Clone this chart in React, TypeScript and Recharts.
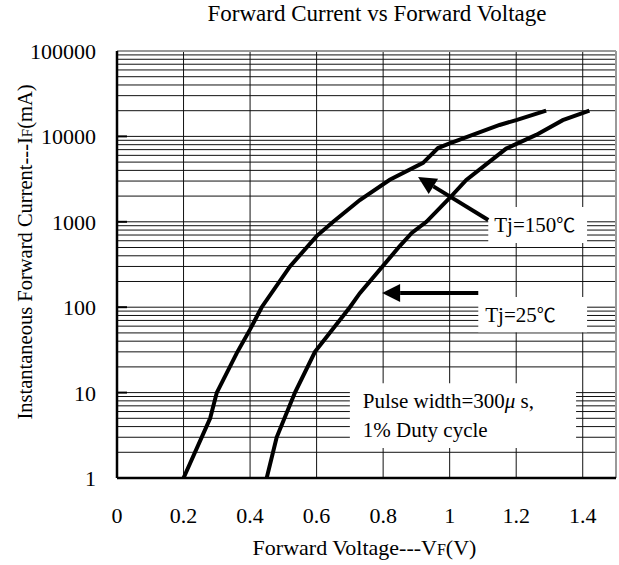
import React from 'react'
import {
  LineChart,
  Line,
  XAxis,
  YAxis,
  CartesianGrid,
  ReferenceArea,
  ReferenceLine,
} from 'recharts'

// axis ticks
const voltageTicks = [0, 0.2, 0.4, 0.6, 0.8, 1, 1.2, 1.4]
const currentTicks = [1, 10, 100, 1000, 10000, 100000]
const minorSteps = [2, 3, 4, 5, 6, 7, 8, 9]

// Tj = 150°C curve (V, mA)
const hotVoltage = [0.2, 0.28, 0.3, 0.36, 0.4, 0.435, 0.52, 0.6, 0.65, 0.73, 0.82, 0.92, 0.965, 1.0, 1.15, 1.2, 1.29]
const hotCurrent = [1, 5, 10, 29, 55, 100, 300, 680, 1000, 1800, 3100, 4900, 7300, 8300, 13600, 15500, 20000]

// Tj = 25°C curve (V, mA)
const coldVoltage = [0.45, 0.48, 0.535, 0.595, 0.7, 0.73, 0.85, 0.886, 0.93, 1.0, 1.05, 1.17, 1.26, 1.34, 1.42]
const coldCurrent = [1, 3, 10, 30, 100, 146, 520, 740, 1000, 1900, 3090, 7200, 10400, 15500, 20000]

const hotData = hotVoltage.map((v, i) => ({ v, a: hotCurrent[i] }))
const coldData = coldVoltage.map((v, i) => ({ v, a: coldCurrent[i] }))

const gridY = currentTicks.flatMap((d) => (d < 100000 ? [d, ...minorSteps.map((m) => d * m)] : [d]))
const gridX = voltageTicks.filter((v) => v > 0)

const FONT = 'Liberation Serif, Times New Roman, serif'
const DEG_FONT = 'Noto Sans CJK TC, Noto Sans CJK SC, serif'

const ArrowShape = (props: any) => {
  const { x1, y1, x2, y2 } = props
  const dx = x2 - x1
  const dy = y2 - y1
  const len = Math.hypot(dx, dy) || 1
  const ux = dx / len
  const uy = dy / len
  const head = 18
  const half = 9
  const bx = x2 - ux * head
  const by = y2 - uy * head
  const px = -uy
  const py = ux
  return (
    <g>
      <line x1={x1} y1={y1} x2={bx} y2={by} stroke="#000" strokeWidth={4} />
      <polygon
        points={`${x2},${y2} ${bx + px * half},${by + py * half} ${bx - px * half},${by - py * half}`}
        fill="#000"
      />
    </g>
  )
}

const XTick = (props: any) => {
  const { x, payload } = props
  return (
    <text x={x} y={523} textAnchor="middle" fontFamily={FONT} fontSize={22} fill="#000">
      {payload.value}
    </text>
  )
}

const YTick = (props: any) => {
  const { y, payload } = props
  return (
    <text x={96} y={y + 8} textAnchor="end" fontFamily={FONT} fontSize={22} fill="#000">
      {payload.value}
    </text>
  )
}

const boxText = (lines: React.ReactNode[], padX: number, lineGap = 29) => (props: any) => {
  const vb = props.viewBox || {}
  const cy = vb.y + vb.height / 2
  const first = cy - ((lines.length - 1) * lineGap) / 2
  return (
    <g>
      {lines.map((ln, i) => (
        <text
          key={i}
          x={vb.x + padX}
          y={first + i * lineGap + 7}
          fontFamily={FONT}
          fontSize={21}
          fill="#000"
        >
          {ln}
        </text>
      ))}
    </g>
  )
}

export default function App() {
  return (
    <div style={{ position: 'absolute', left: 0, top: 0, background: '#fff' }}>
      <LineChart width={619} height={565} margin={{ top: 51, right: 3, bottom: 0, left: 0 }}>
        <text x={377} y={21} textAnchor="middle" fontFamily={FONT} fontSize={23} fill="#000">
          Forward Current vs Forward Voltage
        </text>
        <CartesianGrid
          horizontalValues={gridY}
          verticalValues={gridX}
          stroke="#111"
          strokeWidth={1}
        />
        <XAxis
          type="number"
          dataKey="v"
          domain={[0, 1.5]}
          ticks={voltageTicks}
          interval={0}
          allowDataOverflow
          height={87}
          tickSize={0}
          tickLine={false}
          axisLine={{ stroke: '#000', strokeWidth: 2.5 }}
          tick={<XTick />}
          label={(props: any) => {
            const vb = props.viewBox
            return (
              <text x={vb.x + vb.width / 2 - 2} y={555} textAnchor="middle" fontFamily={FONT} fontSize={22} fill="#000">
                Forward Voltage---V<tspan fontSize={16}>F</tspan>(V)
              </text>
            )
          }}
        />
        <YAxis
          type="number"
          dataKey="a"
          scale="log"
          domain={[1, 100000]}
          ticks={currentTicks}
          interval={0}
          allowDataOverflow
          width={117}
          tickSize={0}
          tickLine={false}
          axisLine={{ stroke: '#000', strokeWidth: 2.5 }}
          tick={<YTick />}
          label={() => (
            <text
              x={32}
              y={252}
              transform="rotate(-90 32 252)"
              textAnchor="middle"
              fontFamily={FONT}
              fontSize={20.5}
              fill="#000"
            >
              Instantaneous Forward Current---I<tspan fontSize={15}>F</tspan>(mA)
            </text>
          )}
        />

        {/* label boxes hide the grid */}
        <ReferenceArea
          x1={1.116}
          x2={1.413}
          y1={565}
          y2={1490}
          fill="#fff"
          fillOpacity={1}
          stroke="none"
          label={boxText([<>Tj=150<tspan fontFamily={DEG_FONT} fontSize={19}>℃</tspan></>], 6)}
        />
        <ReferenceArea
          x1={1.086}
          x2={1.413}
          y1={51}
          y2={132}
          fill="#fff"
          fillOpacity={1}
          stroke="none"
          label={boxText([<>Tj=25<tspan fontFamily={DEG_FONT} fontSize={19}>℃</tspan></>], 7)}
        />
        <ReferenceArea
          x1={0.7}
          x2={1.38}
          y1={2.25}
          y2={12.9}
          fill="#fff"
          fillOpacity={1}
          stroke="none"
          label={boxText(
            [
              <>
                Pulse width=300<tspan fontStyle="italic">μ</tspan> s,
              </>,
              '1% Duty cycle',
            ],
            13,
          )}
        />

        {/* frame */}
        <ReferenceLine y={100000} stroke="#999" strokeWidth={2} />
        <ReferenceLine x={1.5} stroke="#999" strokeWidth={2} />
        {currentTicks.slice(1, 5).map((d) => (
          <ReferenceLine
            key={d}
            segment={[
              { x: 0, y: d },
              { x: 0.03, y: d },
            ]}
            stroke="#000"
            strokeWidth={2}
          />
        ))}

        {/* arrows */}
        <ReferenceLine
          segment={[
            { x: 1.116, y: 1050 },
            { x: 0.905, y: 3350 },
          ]}
          shape={ArrowShape}
        />
        <ReferenceLine
          segment={[
            { x: 1.086, y: 147 },
            { x: 0.797, y: 147 },
          ]}
          shape={ArrowShape}
        />

        <Line
          data={hotData}
          dataKey="a"
          type="linear"
          stroke="#000"
          strokeWidth={4}
          dot={false}
          isAnimationActive={false}
        />
        <Line
          data={coldData}
          dataKey="a"
          type="linear"
          stroke="#000"
          strokeWidth={4}
          dot={false}
          isAnimationActive={false}
        />
      </LineChart>
    </div>
  )
}
